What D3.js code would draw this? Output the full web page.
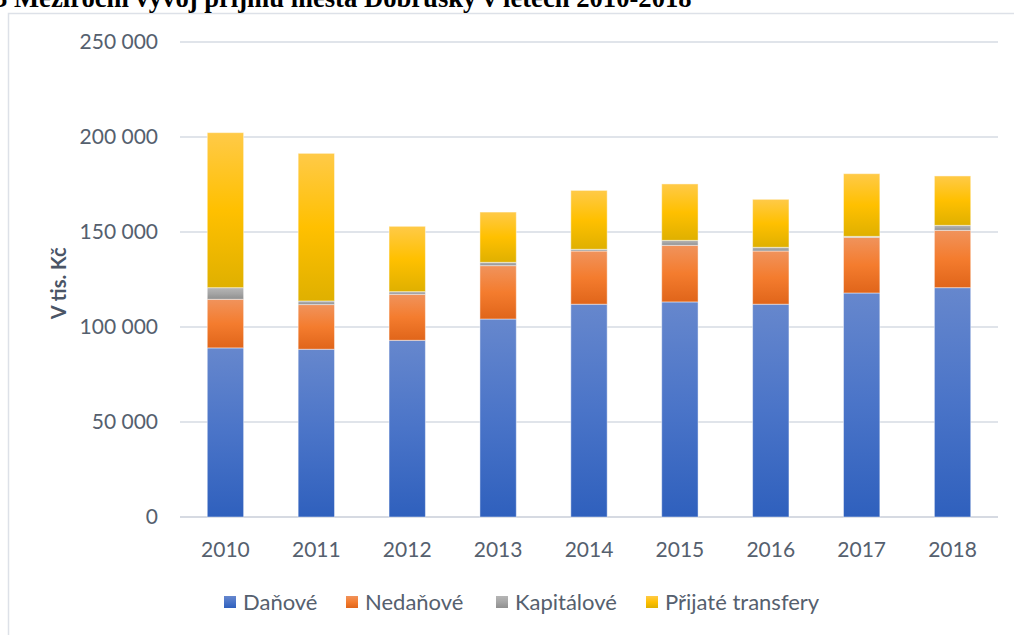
<!DOCTYPE html>
<html>
<head>
<meta charset="utf-8">
<script src="https://cdn.jsdelivr.net/npm/d3@7"></script>
<style>
  html, body { margin: 0; padding: 0; background: #fff; overflow: hidden; }
  svg { display: block; }
</style>
</head>
<body>
<svg id="chart"></svg>
<script>
const years = ["2010", "2011", "2012", "2013", "2014", "2015", "2016", "2017", "2018"];
const series = ["Daňové", "Nedaňové", "Kapitálové", "Přijaté transfery"];
// values in thousands CZK
const danove = [89000, 88300, 93000, 104200, 112000, 113200, 112000, 117900, 120700];
const nedanove = [25600, 23500, 24200, 28100, 28000, 29800, 28000, 29300, 30200];
const kapitalove = [6100, 1900, 1400, 1750, 900, 2600, 1950, 500, 2600];
const transfery = [81600, 77700, 34400, 26450, 31000, 29700, 25250, 33000, 26000];
const yTicks = [0, 50000, 100000, 150000, 200000, 250000];

const width = 1014;
const height = 635;
const margin = { left: 180, right: 16, top: 42, bottom: 118 };

// light top -> dark bottom, like the office gradient fill
const gradients = [
  ["#6687cd", "#4a74c8", "#2f60bd"],
  ["#f0935c", "#f47c2e", "#e0651a"],
  ["#b6b6b6", "#a5a5a5", "#8f8f8f"],
  ["#ffca48", "#ffc000", "#dfb000"],
];

const svg = d3.select("#chart").attr("width", width).attr("height", height);

const defs = svg.append("defs");
gradients.forEach((stops, i) => {
  const g = defs.append("linearGradient")
    .attr("id", `grad${i}`)
    .attr("x1", 0).attr("y1", 0).attr("x2", 0).attr("y2", 1);
  g.append("stop").attr("offset", "0%").attr("stop-color", stops[0]);
  g.append("stop").attr("offset", "50%").attr("stop-color", stops[1]);
  g.append("stop").attr("offset", "100%").attr("stop-color", stops[2]);
});

// chart frame
svg.append("path")
  .attr("d", `M8.5,${height} V13.5 H${width}`)
  .attr("fill", "none")
  .attr("stroke", "#dde1e8")
  .attr("stroke-width", 1.5);

// title above the frame, cut off by the top edge like in the source
const title = svg.append("text")
  .attr("x", -6)
  .attr("y", 7)
  .style("font-family", "'Liberation Serif', 'Times New Roman', serif")
  .style("font-weight", "bold")
  .style("font-size", "20px")
  .attr("fill", "#000")
  .text("3 Meziroční vývoj příjmů města Dobrušky v letech 2010-2018");
const tw = title.node().getComputedTextLength();
title.style("font-size", `${20 * 698 / tw}px`);

const xScale = d3.scaleBand()
  .domain(years)
  .range([margin.left, width - margin.right])
  .paddingInner(0.6)
  .paddingOuter(0.3);

const yScale = d3.scaleLinear()
  .domain([0, 250000])
  .range([517, 42]);

const fmt = (v) => d3.format(",")(v).replace(/,/g, " ");

// gridlines
svg.append("g")
  .selectAll("line")
  .data(yTicks)
  .enter()
  .append("line")
  .attr("x1", margin.left)
  .attr("x2", width - margin.right)
  .attr("y1", (d) => yScale(d))
  .attr("y2", (d) => yScale(d))
  .attr("stroke", (d) => (d === 0 ? "#d6dae2" : "#e0e4ea"))
  .attr("stroke-width", 2);

// y tick labels
svg.append("g")
  .selectAll("text")
  .data(yTicks)
  .enter()
  .append("text")
  .attr("x", 158)
  .attr("y", (d) => yScale(d))
  .attr("dy", "0.35em")
  .attr("text-anchor", "end")
  .style("font-family", "Lato, 'Open Sans', sans-serif")
  .style("font-size", "21px")
  .attr("fill", "#55606e")
  .text(fmt);

// y axis title
svg.append("text")
  .attr("transform", `translate(66, ${yScale(123000)}) rotate(-90)`)
  .attr("text-anchor", "middle")
  .style("font-family", "Lato, 'Open Sans', sans-serif")
  .style("font-size", "20px")
  .style("font-weight", "bold")
  .attr("fill", "#4a5566")
  .text("V tis. Kč");

// stacked bars
const rows = years.map((year, i) => ({
  year,
  0: danove[i],
  1: nedanove[i],
  2: kapitalove[i],
  3: transfery[i],
}));
const stack = d3.stack().keys([0, 1, 2, 3])(rows);

stack.forEach((layer, k) => {
  svg.append("g")
    .selectAll("rect")
    .data(layer)
    .enter()
    .append("rect")
    .attr("x", (d) => xScale(d.data.year))
    .attr("width", xScale.bandwidth())
    .attr("y", (d) => yScale(d[1]))
    .attr("height", (d) => yScale(d[0]) - yScale(d[1]))
    .attr("fill", `url(#grad${k})`)
    .attr("stroke", "rgba(255,255,255,0.45)")
    .attr("stroke-width", 1);
});

// x labels
svg.append("g")
  .selectAll("text")
  .data(years)
  .enter()
  .append("text")
  .attr("x", (d) => xScale(d) + xScale.bandwidth() / 2)
  .attr("y", 557)
  .attr("text-anchor", "middle")
  .style("font-family", "Lato, 'Open Sans', sans-serif")
  .style("font-size", "21px")
  .attr("fill", "#55606e")
  .text((d) => d);

// legend
const legendX = [224, 346, 496, 646];
const legend = svg.append("g")
  .selectAll("g")
  .data(series)
  .enter()
  .append("g")
  .attr("transform", (d, i) => `translate(${legendX[i]}, 602)`);

legend.append("rect")
  .attr("x", 0)
  .attr("y", -6)
  .attr("width", 12)
  .attr("height", 12)
  .attr("fill", (d, i) => `url(#grad${i})`);

legend.append("text")
  .attr("x", 19)
  .attr("dy", "0.35em")
  .style("font-family", "Lato, 'Open Sans', sans-serif")
  .style("font-size", "22px")
  .attr("fill", "#55606e")
  .text((d) => d);
</script>
</body>
</html>
